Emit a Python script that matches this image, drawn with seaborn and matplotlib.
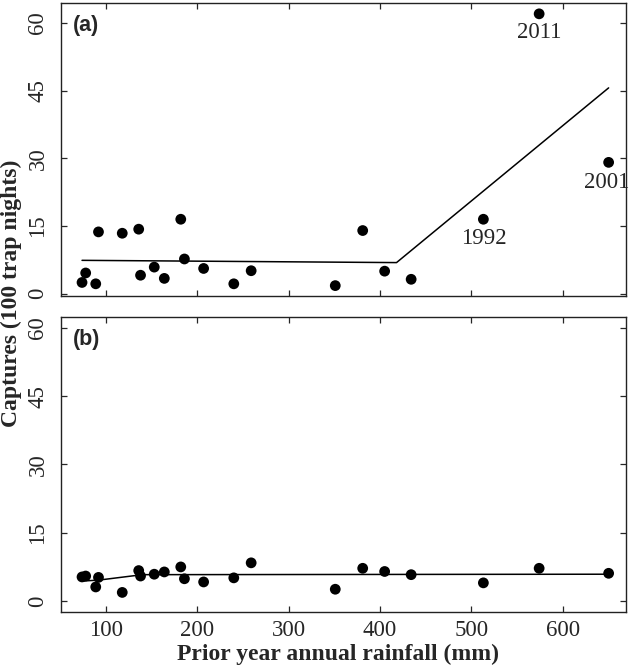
import numpy as np
import pandas as pd
import matplotlib.pyplot as plt
import seaborn as sns

# rainfall (mm) of the prior year, same years in both panels
rainfall = [74, 78, 89, 92, 118, 136, 138, 153, 164, 182, 186, 207, 240, 259,
            351, 381, 405, 434, 513, 574, 650]
captures_a = [2.5, 4.6, 2.2, 13.7, 13.4, 14.3, 4.1, 5.9, 3.4, 16.5, 7.7, 5.6, 2.2, 5.1,
              1.8, 14.0, 5.0, 3.2, 16.5, 62.0, 29.1]
captures_b = [5.3, 5.5, 3.1, 5.2, 1.9, 6.7, 5.5, 5.9, 6.4, 7.5, 4.9, 4.2, 5.1, 8.4,
              2.6, 7.2, 6.5, 5.8, 4.0, 7.2, 6.1]

# fitted lines
fit_a_x = [74, 418, 650]
fit_a_y = [7.4, 6.9, 45.6]
fit_b_x = [74, 92, 140, 650]
fit_b_y = [4.4, 4.6, 5.8, 5.9]

# labelled years in panel (a)
label_years = ["1992", "2011", "2001"]
label_x = [513, 574, 648]
label_y = [12.3, 57.9, 24.6]

df_a = pd.DataFrame({"rain": rainfall, "cap": captures_a})
df_b = pd.DataFrame({"rain": rainfall, "cap": captures_b})

sns.set_style("ticks")
plt.rcParams['font.family'] = ['Liberation Serif', 'DejaVu Serif']

fig = plt.figure(figsize=(6.31, 6.69), dpi=100)
ax_a = fig.add_axes([61/631, 1 - 296/669, 565/631, 293/669])
ax_b = fig.add_axes([61/631, 1 - 612/669, 565/631, 295/669])

for ax, d, fx, fy, lab in [(ax_a, df_a, fit_a_x, fit_a_y, "(a)"),
                           (ax_b, df_b, fit_b_x, fit_b_y, "(b)")]:
    sns.lineplot(x=fx, y=fy, ax=ax, color="black", linewidth=1.1, sort=False)
    sns.scatterplot(data=d, x="rain", y="cap", ax=ax, color="black", s=60,
                    edgecolor="none", zorder=3)
    ax.set_xlim(51, 669)
    ax.set_yticks([0, 15, 30, 45, 60])
    ax.set_xticks([100, 200, 300, 400, 500, 600])
    ax.tick_params(direction="in", length=4, top=True, right=True,
                   labelsize=16.5, width=0.9)
    ax.tick_params(axis="y", pad=9)
    ax.tick_params(axis="x", pad=6)
    for lbl in ax.get_yticklabels():
        lbl.set_rotation(90)
        lbl.set_va("center")
    for sp in ax.spines.values():
        sp.set_visible(True)
        sp.set_linewidth(1.0)
        sp.set_color("#222222")
    ax.set_xlabel("")
    ax.set_ylabel("")
    ax.text(0.021, 0.96, lab, transform=ax.transAxes, ha="left", va="top",
            fontsize=15.5, fontweight="bold", family=["Liberation Sans", "DejaVu Sans"])

ax_a.set_ylim(-0.5, 64.4)
ax_b.set_ylim(-2.4, 62.4)
ax_a.tick_params(labelbottom=False)

for t, x, y in zip(label_years, label_x, label_y):
    ax_a.text(x, y, t, ha="center", va="center", fontsize=16.5, clip_on=False)

fig.text(338/631, 1 - 654/669, "Prior year annual rainfall (mm)", ha="center",
         va="center", fontsize=17, fontweight="bold")
fig.text(0.018, 1 - 293/669, "Captures (100 trap nights)", rotation=90, ha="center",
         va="center", fontsize=17, fontweight="bold")

fig.savefig("out.png", dpi=100)
